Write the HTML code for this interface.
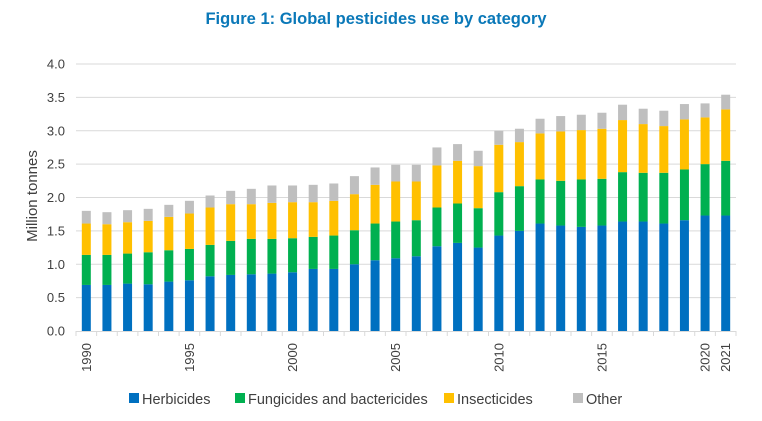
<!DOCTYPE html>
<html><head><meta charset="utf-8"><style>
body{margin:0;background:#fff;width:762px;height:416px;overflow:hidden;font-family:"Liberation Sans",sans-serif;}
</style></head><body>
<svg id="chart" width="762" height="416" xmlns="http://www.w3.org/2000/svg">
<text x="376" y="24" text-anchor="middle" font-family="Liberation Sans, sans-serif" font-weight="bold" font-size="16.5" fill="#0a78b8">Figure 1: Global pesticides use by category</text>
<text transform="translate(37,196) rotate(-90)" text-anchor="middle" font-size="15" fill="#404040">Million tonnes</text>
<g id="grid"></g><g id="bars"></g><g id="axes"></g><g id="legend"></g>
</svg>
<script>
const years=[1990,1991,1992,1993,1994,1995,1996,1997,1998,1999,2000,2001,2002,2003,2004,2005,2006,2007,2008,2009,2010,2011,2012,2013,2014,2015,2016,2017,2018,2019,2020,2021];
const herbicides=[0.69,0.69,0.71,0.70,0.74,0.76,0.82,0.84,0.85,0.86,0.88,0.93,0.93,1.00,1.06,1.09,1.12,1.27,1.32,1.25,1.43,1.50,1.61,1.58,1.56,1.58,1.64,1.64,1.61,1.66,1.73,1.73];
const fungicides=[0.45,0.45,0.45,0.48,0.47,0.47,0.47,0.51,0.53,0.52,0.51,0.48,0.50,0.51,0.55,0.55,0.54,0.58,0.59,0.59,0.65,0.67,0.66,0.67,0.71,0.70,0.74,0.73,0.76,0.76,0.77,0.82];
const insecticides=[0.47,0.46,0.47,0.47,0.50,0.53,0.56,0.55,0.52,0.54,0.54,0.52,0.52,0.54,0.58,0.60,0.58,0.63,0.64,0.63,0.71,0.66,0.69,0.74,0.74,0.75,0.78,0.73,0.70,0.75,0.70,0.77];
const other=[0.19,0.18,0.18,0.18,0.18,0.19,0.18,0.20,0.23,0.26,0.25,0.26,0.26,0.27,0.26,0.25,0.25,0.27,0.25,0.23,0.21,0.20,0.22,0.23,0.23,0.24,0.23,0.23,0.23,0.23,0.21,0.22];
const yTicks=[0,0.5,1.0,1.5,2.0,2.5,3.0,3.5,4.0];
const xLabels=[1990,1995,2000,2005,2010,2015,2020,2021];
const seriesNames=["Herbicides","Fungicides and bactericides","Insecticides","Other"];
const colors=["#0070c0","#00b050","#ffc000","#bfbfbf"];
const NS="http://www.w3.org/2000/svg";
const x0=76,x1=736,y0=331,y1=64,yMax=4;
const step=(x1-x0)/years.length;
const yS=v=>y0-(v/yMax)*(y0-y1);
const xC=i=>x0+step*(i+0.5);
function mk(tag,attrs,parent){const e=document.createElementNS(NS,tag);for(const k in attrs)e.setAttribute(k,attrs[k]);parent.appendChild(e);return e;}
const grid=document.getElementById('grid'),bars=document.getElementById('bars'),axes=document.getElementById('axes'),legend=document.getElementById('legend');
yTicks.forEach(t=>{
 if(t>0){const l=mk('line',{x1:x0,x2:x1,y1:yS(t),y2:yS(t),stroke:'#d9d9d9','stroke-width':1},grid);
 
 }
 const tx=mk('text',{x:65,y:yS(t)+4.5,'text-anchor':'end','font-size':13,fill:'#404040'},axes);
 tx.textContent=t.toFixed(1);
 
 
});
const series=[herbicides,fungicides,insecticides,other];
years.forEach((yr,i)=>{
 let base=0;
 series.forEach((s,k)=>{
  const top=base+s[i];
  const r=mk('rect',{x:xC(i)-4.5,width:9,y:yS(top),height:yS(base)-yS(top),fill:colors[k]},bars);
  
  
  base=top;
 });
});
const ax=mk('line',{x1:x0,x2:x1,y1:y0+0.5,y2:y0+0.5,stroke:'#d9d9d9','stroke-width':1},axes);


for(let i=0;i<=years.length;i++){
 const tk=mk('line',{x1:x0+step*i,x2:x0+step*i,y1:y0,y2:y0+5,stroke:'#d9d9d9'},axes);
 
 
}
xLabels.forEach(yr=>{
 const i=years.indexOf(yr);
 const t=mk('text',{transform:`translate(${xC(i)+4.5},${343}) rotate(-90)`,'text-anchor':'end','font-size':13,fill:'#404040'},axes);
 t.textContent=yr;
 
 
});
const lx=[129,235,444,573];
seriesNames.forEach((n,k)=>{
 const r=mk('rect',{x:lx[k],y:393,width:10,height:10,fill:colors[k]},legend);
 
 
 const t=mk('text',{x:lx[k]+13,y:404,'font-size':14.5,fill:'#404040'},legend);
 t.textContent=n;
 
 
});
</script>
</body></html>
